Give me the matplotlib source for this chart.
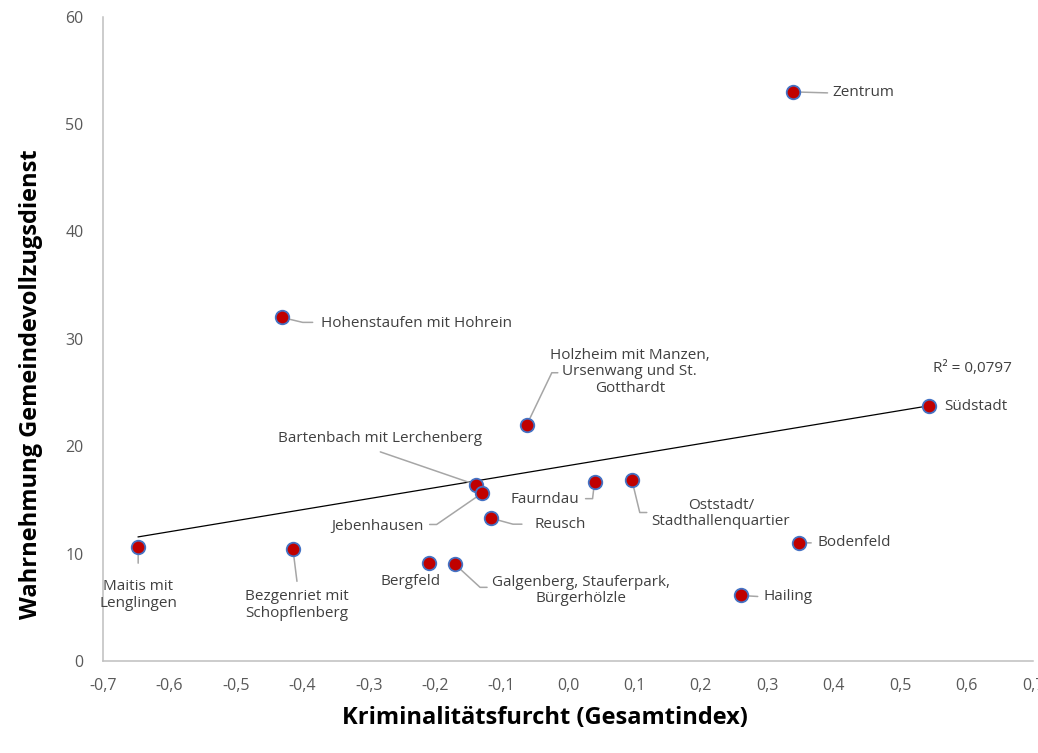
import math
import numpy as np
import matplotlib
matplotlib.use('Agg')
import matplotlib.pyplot as plt
from matplotlib.ticker import MultipleLocator, FuncFormatter

# Daten: Stadtbezirke, Kriminalitätsfurcht (x) und Wahrnehmung GVD (y)
bezirke = ['Zentrum', 'Hohenstaufen mit Hohrein', 'Holzheim mit Manzen,\nUrsenwang und St.\nGotthardt',
           'Südstadt', 'Bartenbach mit Lerchenberg', 'Jebenhausen', 'Reusch', 'Faurndau',
           'Oststadt/\nStadthallenquartier', 'Bodenfeld', 'Hailing', 'Maitis mit\nLenglingen',
           'Bezgenriet mit\nSchopflenberg', 'Bergfeld', 'Galgenberg, Stauferpark,\nBürgerhölzle']
furcht = [0.338, -0.431, -0.062, 0.543, -0.138, -0.130, -0.116, 0.040,
          0.096, 0.348, 0.260, -0.647, -0.414, -0.209, -0.170]
wahrnehmung = [53.0, 32.0, 22.0, 23.7, 16.4, 15.6, 13.3, 16.7,
               16.9, 11.0, 6.1, 10.6, 10.4, 9.1, 9.0]
r2_text = 'R² = 0,0797'

# Beschriftungs-Layout in Pixeln relativ zum Punkt: Text-Offset, Ausrichtung,
# Ende der Führungslinie und x des Knicks (None = gerade Linie)
layout = [
    ((40, -1), 'left', (35, -1), None),
    ((39, -6), 'left', (31, -5), 21),
    ((103, 53), 'center', (31, 52), 25),
    ((16, 0), 'left', None, None),
    ((-96, 46), 'center', (-96, 33), None),
    ((-58, -33), 'right', (-52, -31), -45),
    ((44, -6), 'left', (31, -6), 22),
    ((-15, -18), 'right', (-9, -17), -2),
    ((89, -34), 'center', (15, -33), 8),
    ((18, 0), 'left', (12, 0), None),
    ((23, -1), 'left', (17, -1), None),
    ((0, -48), 'center', (0, -16), None),
    ((4, -56), 'center', (4, -32), None),
    ((-19, -18), 'center', None, None),
    ((126, -26), 'center', (32, -23), 25),
]

plt.rcParams['font.family'] = ['Open Sans', 'DejaVu Sans']

fig = plt.figure(figsize=(10.38, 7.53), dpi=100)
ax = fig.add_axes([0.0992, 0.1222, 0.896, 0.8556])

# Trendlinie (linear) über den Datenbereich
m, b = np.polyfit(furcht, wahrnehmung, 1)
x_tr = np.array([min(furcht), max(furcht)])
ax.plot(x_tr, m * x_tr + b, color='black', linewidth=0.9, zorder=2)

ax.scatter(furcht, wahrnehmung, s=95, color='#C00000', edgecolor='#4472C4',
           linewidth=1.3, zorder=4)

for name, x, y, (txt, ha, ende, knick) in zip(bezirke, furcht, wahrnehmung, layout):
    ax.annotate(name, (x, y), xytext=txt, textcoords='offset pixels', ha=ha, va='center',
                fontsize=11, color='#404040', linespacing=1.15, zorder=5)
    if ende is None:
        continue
    if knick is None:
        stil = 'arc3,rad=0'
    else:
        winkel = math.degrees(math.atan2(ende[1], knick))
        stil = f'angle,angleA=0,angleB={winkel},rad=0'
    ax.annotate('', (x, y), xytext=ende, textcoords='offset pixels',
                arrowprops=dict(arrowstyle='-', color='#a6a6a6', linewidth=1.1,
                                shrinkA=0, shrinkB=0, connectionstyle=stil), zorder=3)

ax.annotate(r2_text, (x_tr[1], m * x_tr[1] + b), xytext=(4, 37), textcoords='offset pixels',
            ha='left', va='center', fontsize=11, color='#404040')

ax.set_xlim(-0.7, 0.7)
ax.set_ylim(0, 60)
ax.xaxis.set_major_locator(MultipleLocator(0.1))
ax.yaxis.set_major_locator(MultipleLocator(10))
ax.xaxis.set_major_formatter(FuncFormatter(lambda v, p: f'{v:.1f}'.replace('.', ',').replace('-0,0', '0,0')))
ax.tick_params(length=0, labelsize=11.5, labelcolor='#595959', pad=12)
ax.tick_params(axis='y', pad=14)
for s in ['top', 'right']:
    ax.spines[s].set_visible(False)
for s in ['left', 'bottom']:
    ax.spines[s].set_color('#bfbfbf')
    ax.spines[s].set_linewidth(1.1)

fig.text(0.525, 0.046, 'Kriminalitätsfurcht (Gesamtindex)', ha='center', va='center',
         fontsize=17, fontweight='bold', color='black')
fig.text(0.03, 0.49, 'Wahrnehmung Gemeindevollzugsdienst', ha='center', va='center',
         rotation=90, fontsize=17, fontweight='bold', color='black')

fig.savefig('out.png', dpi=100)
